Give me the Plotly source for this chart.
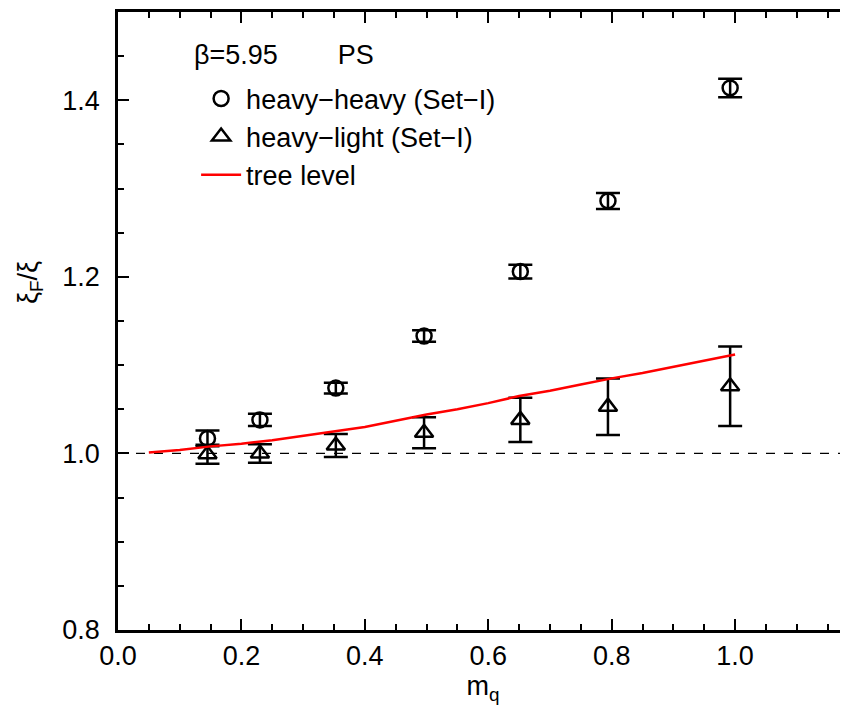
import plotly.graph_objects as go

# data
mq = [0.145, 0.230, 0.353, 0.496, 0.652, 0.794, 0.992]
hh_val = [1.017, 1.038, 1.074, 1.133, 1.206, 1.286, 1.414]
hh_err = [0.009, 0.007, 0.006, 0.0065, 0.0078, 0.009, 0.0105]
hl_val = [0.999, 1.000, 1.009, 1.0235, 1.038, 1.053, 1.076]
hl_err = [0.0107, 0.0105, 0.013, 0.0175, 0.025, 0.032, 0.045]
tree_x = [0.05, 0.10, 0.15, 0.20, 0.25, 0.30, 0.35, 0.40, 0.45, 0.50,
          0.55, 0.60, 0.65, 0.70, 0.75, 0.80, 0.85, 0.90, 0.95, 1.00]
tree_y = [1.001, 1.004, 1.008, 1.011, 1.015, 1.020, 1.025, 1.030, 1.037, 1.044,
          1.050, 1.057, 1.065, 1.071, 1.078, 1.085, 1.091, 1.098, 1.105, 1.112]
ref_level = 1.0
x_ticks = [0.0, 0.2, 0.4, 0.6, 0.8, 1.0]
y_ticks = [0.8, 1.0, 1.2, 1.4]

FONT = "Liberation Sans, Arial, sans-serif"

fig = go.Figure()
fig.add_trace(go.Scatter(
    x=mq, y=hh_val, mode="markers", name="heavy\u2212heavy (Set\u2212I)",
    legendgroup="a",
    marker=dict(symbol="circle-open", size=15, color="black", line=dict(width=2.5, color="black")),
    error_y=dict(type="data", array=hh_err, visible=True, color="black", thickness=2.5, width=12),
))
fig.add_trace(go.Scatter(
    x=mq, y=hl_val, mode="markers", name="heavy\u2212light (Set\u2212I)",
    legendgroup="b",
    marker=dict(symbol="triangle-up-open", size=16, color="black", line=dict(width=2.5, color="black")),
    error_y=dict(type="data", array=hl_err, visible=True, color="black", thickness=2.5, width=12),
))
fig.add_trace(go.Scatter(
    x=tree_x, y=tree_y, mode="lines", name="tree level",
    legendgroup="c",
    line=dict(color="#ff0000", width=2.5),
))

fig.add_shape(type="line", xref="paper", x0=0, x1=1, yref="y", y0=ref_level, y1=ref_level,
              line=dict(color="black", width=1.2, dash="dash"), layer="below")

fig.add_annotation(
    xref="paper", yref="paper", x=0.101, y=0.930, xanchor="left", yanchor="middle",
    text="\u03b2=5.95" + "\u00a0" * 8 + "PS", showarrow=False,
    font=dict(size=27, family=FONT, color="black"),
)
fig.add_annotation(
    xref="paper", yref="paper", x=-0.1205, y=0.5615, xanchor="center", yanchor="middle",
    text="\u03be<sub>F</sub>/\u03be", textangle=-90, showarrow=False,
    font=dict(size=27, family=FONT, color="black"),
)

fig.update_layout(
    width=840, height=701,
    margin=dict(l=110, r=0, t=4, b=79),
    paper_bgcolor="white", plot_bgcolor="white",
    font=dict(family=FONT, size=27, color="black"),
    showlegend=True,
    legend=dict(
        x=0.107, y=0.899, xanchor="left", yanchor="top",
        bgcolor="rgba(0,0,0,0)", borderwidth=0,
        font=dict(size=27),
        itemwidth=40,
        tracegroupgap=0,
        traceorder="grouped",
    ),
    xaxis=dict(
        range=[0, 1.183], tickmode="array", tickvals=x_ticks,
        ticktext=[f"{v:.1f}" for v in x_ticks],
        ticks="inside", ticklen=11, tickwidth=2, tickcolor="black",
        minor=dict(dtick=0.05, ticks="inside", ticklen=6, tickwidth=2, tickcolor="black"),
        showline=True, linewidth=2.5, linecolor="black", mirror="ticks",
        showgrid=False, zeroline=False,
        tickfont=dict(size=27),
        title=dict(text="m<sub>q</sub>", font=dict(size=27), standoff=6),
    ),
    yaxis=dict(
        range=[0.8, 1.5], tickmode="array", tickvals=y_ticks,
        ticktext=[f"{v:.1f}" for v in y_ticks],
        ticks="inside", ticklen=11, tickwidth=2, tickcolor="black",
        minor=dict(dtick=0.05, ticks="inside", ticklen=6, tickwidth=2, tickcolor="black"),
        showline=True, linewidth=2.5, linecolor="black", mirror=False,
        showgrid=False, zeroline=False,
        tickfont=dict(size=27),
        ticklabelstandoff=10,
    ),
)

fig.write_html("out.html")
